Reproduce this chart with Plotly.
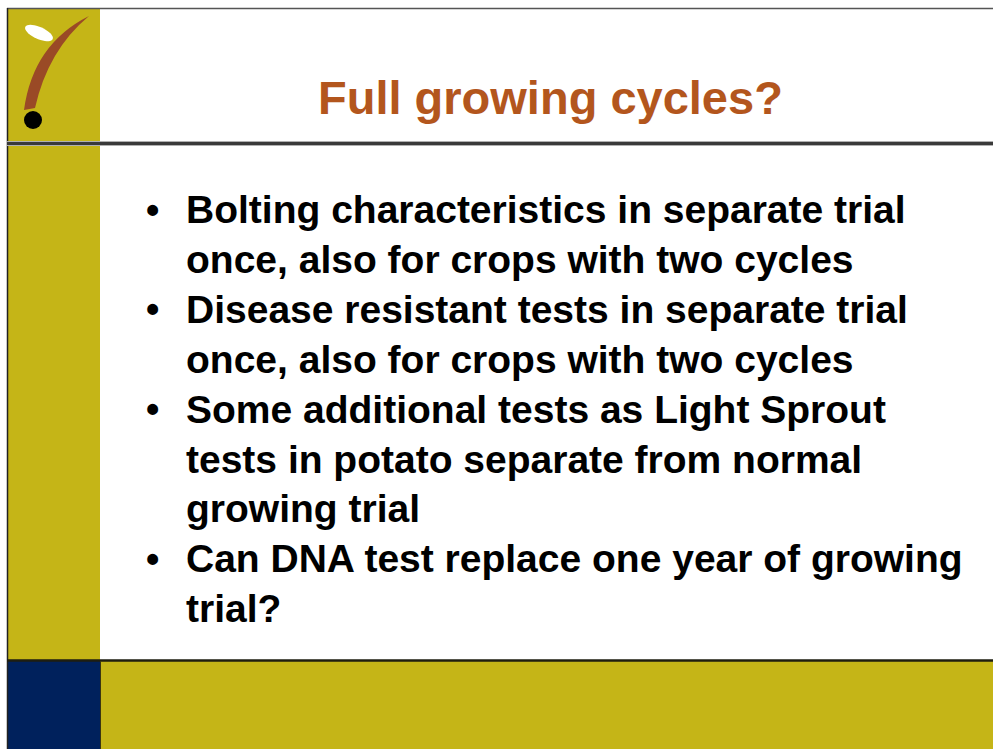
import numpy as np
import plotly.graph_objects as go

# slide text
title = "Full growing cycles?"
bullets = [
    ["Bolting characteristics in separate trial", "once, also for crops with two cycles"],
    ["Disease resistant tests in separate trial", "once, also for crops with two cycles"],
    ["Some additional tests as Light Sprout", "tests in potato separate from normal", "growing trial"],
    ["Can DNA test replace one year of growing", "trial?"],
]

W, H = 993, 749
gold = "#C5B517"
navy = "#00215C"
brown = "#B3561D"
font = "Liberation Sans, Arial, sans-serif"

fig = go.Figure()
shapes = []

# background blocks
shapes.append(dict(type="rect", x0=7, x1=100, y0=8, y1=661, fillcolor=gold, line_width=0, layer="below"))
shapes.append(dict(type="rect", x0=7, x1=100, y0=661, y1=H, fillcolor=navy, line_width=0, layer="below"))
shapes.append(dict(type="rect", x0=100, x1=W, y0=661, y1=H, fillcolor=gold, line_width=0, layer="below"))

# border lines
shapes.append(dict(type="line", x0=7, x1=W, y0=8.5, y1=8.5, line=dict(color="#555555", width=1.5)))
shapes.append(dict(type="line", x0=7.5, x1=7.5, y0=8, y1=H, line=dict(color="#222222", width=1.5)))
shapes.append(dict(type="line", x0=7, x1=W, y0=143.5, y1=143.5, line=dict(color="#B0B0B0", width=5)))
shapes.append(dict(type="line", x0=7, x1=W, y0=143.5, y1=143.5, line=dict(color="#3A3A3A", width=3)))
shapes.append(dict(type="line", x0=7, x1=W, y0=660.5, y1=660.5, line=dict(color="#1E1E10", width=2.5)))
shapes.append(dict(type="line", x0=100.5, x1=100.5, y0=661, y1=H, line=dict(color="#3A3510", width=1)))

# logo: brown swoosh, white leaf, black dot
shapes.append(dict(type="path", path="M 24 110 Q 33 44 89 16 Q 48 50 35 108 Z",
                   fillcolor="#9A4A26", line_width=0))
t = np.linspace(0, 2 * np.pi, 40)
ang = np.deg2rad(24)
ex = 15 * np.cos(t)
ey = 6 * np.sin(t)
px_ = 39 + ex * np.cos(ang) - ey * np.sin(ang)
py_ = 33 + ex * np.sin(ang) + ey * np.cos(ang)
leaf = "M " + " L ".join(f"{a:.1f} {b:.1f}" for a, b in zip(px_, py_)) + " Z"
shapes.append(dict(type="path", path=leaf, fillcolor="white", line_width=0))
shapes.append(dict(type="circle", x0=24, x1=42, y0=111, y1=129, fillcolor="black", line_width=0))

annotations = []
annotations.append(dict(x=550, y=97, text="<b>" + title + "</b>", showarrow=False,
                        xanchor="center", yanchor="middle",
                        font=dict(family=font, size=47, color=brown)))

y0 = 209.5
pitch = 49.9
row = 0
for item in bullets:
    annotations.append(dict(x=152, y=y0 + row * pitch, text="<b>•</b>", showarrow=False,
                            xanchor="center", yanchor="middle",
                            font=dict(family=font, size=38, color="#000000")))
    for line in item:
        annotations.append(dict(x=184, y=y0 + row * pitch, text="<b>" + line + "</b>", showarrow=False,
                                xanchor="left", yanchor="middle",
                                font=dict(family=font, size=39, color="#000000")))
        row += 1

fig.update_layout(
    width=W, height=H,
    margin=dict(l=0, r=0, t=0, b=0),
    paper_bgcolor="white", plot_bgcolor="white",
    xaxis=dict(range=[0, W], visible=False, fixedrange=True),
    yaxis=dict(range=[H, 0], visible=False, fixedrange=True),
    shapes=shapes,
    annotations=annotations,
    showlegend=False,
)

# full-window slide: drop the default page margin
fig.write_html("out.html", config=dict(displayModeBar=False),
               post_script="document.body.style.margin='0';document.body.style.overflow='hidden';")
